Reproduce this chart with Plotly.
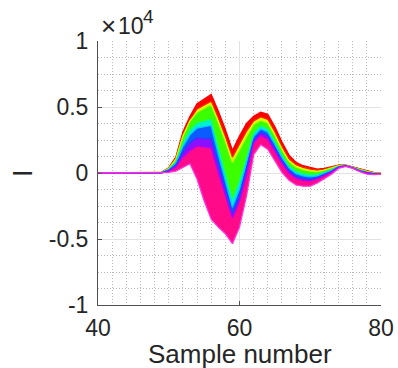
import plotly.graph_objects as go

samples = list(range(40, 81))
Z = [0] * 9  # samples 40..48

top_red = Z + [50, 400, 1200, 3100, 4300, 5250, 5600, 5950, 4700, 3300, 1700, 2800, 3750, 4300, 4600, 4450,
               3500, 2350, 1350, 800, 550, 400, 300, 350, 500, 600, 600, 450, 280, 150, 30, 0]
edge_red_yellow = Z + [40, 370, 1100, 2900, 4050, 4850, 5150, 5450, 4180, 2790, 1200, 2200, 3180, 3940, 4250, 4070,
                       3130, 2020, 1080, 630, 430, 300, 220, 300, 460, 580, 590, 440, 270, 130, 20, -10]
edge_yellow_green = Z + [40, 350, 1050, 2800, 3950, 4600, 4900, 5200, 3860, 2420, 800, 1720, 2750, 3690, 4000, 3800,
                         2860, 1790, 880, 460, 260, 150, 110, 220, 390, 550, 580, 430, 250, 120, 10, -20]
edge_green_cyan = Z + [30, 280, 850, 2300, 3300, 3800, 3950, 4100, 2060, 60, -1900, -530, 1270, 3060, 3600, 3360,
                       2430, 1410, 570, 150, -20, -100, -80, 80, 280, 510, 560, 410, 210, 70, -20, -30]
edge_cyan_blue = Z + [30, 250, 750, 2000, 2900, 3400, 3500, 3600, 1440, -570, -2600, -1220, 730, 2770, 3350, 3100,
                      2170, 1180, 380, -50, -210, -290, -210, -20, 200, 480, 550, 400, 190, 50, -40, -40]
edge_blue_violet = Z + [20, 200, 600, 1600, 2300, 2700, 2600, 2600, 650, -1200, -3100, -1760, 260, 2500, 3100, 2830,
                        1910, 950, 190, -250, -430, -480, -360, -120, 120, 440, 540, 390, 170, 20, -60, -50]
edge_violet_pink = Z + [10, 150, 450, 1200, 1700, 2050, 1950, 1900, 40, -1680, -3400, -2150, -120, 2260, 2850, 2570,
                        1650, 720, 0, -410, -550, -600, -450, -180, 70, 420, 530, 380, 150, 0, -70, -60]
bottom_pink = Z + [0, 50, 150, 400, 700, -450, -2100, -3500, -4100, -4600, -5350, -4100, -1700, 1400, 2150, 1800,
                   900, 50, -550, -900, -1000, -1000, -750, -400, -100, 350, 500, 350, 100, -80, -120, -80]

curves = [top_red, edge_red_yellow, edge_yellow_green, edge_green_cyan,
          edge_cyan_blue, edge_blue_violet, edge_violet_pink, bottom_pink]
band_colors = ["#ff0000", "#ff0000", "#d8ff00", "#3cff00", "#00f0d0", "#0a5cff", "#8a10ff", "#ff0a88"]
line_colors = ["#ff0000", "#ff2000", "#c8ff00", "#20ff40", "#00c8ff", "#2040ff", "#b000ff", "#ff30e0"]

y_ticks = [-10000, -5000, 0, 5000, 10000]
y_ticktext = ["-1", "-0.5", "0", "0.5", "1"]
x_ticks = [40, 60, 80]

FONT = "Liberation Sans, Arial, sans-serif"

fig = go.Figure()
for i, c in enumerate(curves):
    fig.add_trace(go.Scatter(
        x=samples, y=c, mode="lines",
        line=dict(color=line_colors[i], width=1.3),
        fill=None if i == 0 else "tonexty",
        fillcolor=band_colors[i],
        showlegend=False, hoverinfo="skip"))

axis_common = dict(
    showgrid=True, gridcolor="#e2e2e2", gridwidth=1,
    zeroline=False, showline=True, linecolor="#505050", linewidth=1,
    ticks="inside", ticklen=4, tickcolor="#505050",
    tickfont=dict(family=FONT, size=23, color="#262626"),
    automargin=False,
)

minor_grid = dict(showgrid=True, gridcolor="#b8b8b8", griddash="1px,2px", gridwidth=1, ticks="")

fig.update_layout(
    width=398, height=368,
    margin=dict(l=98, r=17, t=41, b=63),
    paper_bgcolor="white", plot_bgcolor="white",
    xaxis=dict(range=[40, 80], tickvals=x_ticks, minor=dict(dtick=2, **minor_grid),
               ticklabelstandoff=2, **axis_common),
    yaxis=dict(range=[-10000, 10000], tickvals=y_ticks, ticktext=y_ticktext,
               minor=dict(dtick=1250, **minor_grid), ticklabelstandoff=4, **axis_common),
    annotations=[
        dict(text="×", xref="paper", yref="paper", x=0.002, y=1.056,
             xanchor="left", yanchor="middle", showarrow=False,
             font=dict(family=FONT, size=26, color="#262626")),
        dict(text="10", xref="paper", yref="paper", x=0.062, y=1.056,
             xanchor="left", yanchor="middle", showarrow=False,
             font=dict(family=FONT, size=23, color="#262626")),
        dict(text="4", xref="paper", yref="paper", x=0.152, y=1.094,
             xanchor="left", yanchor="middle", showarrow=False,
             font=dict(family=FONT, size=19, color="#262626")),
        dict(text="I", xref="paper", yref="paper", x=-0.265, y=0.5, textangle=-90,
             xanchor="center", yanchor="middle", showarrow=False,
             font=dict(family=FONT, size=27, color="#262626")),
        dict(text="Sample number", xref="paper", yref="paper", x=0.5, y=-0.12,
             xanchor="center", yanchor="top", showarrow=False,
             font=dict(family=FONT, size=26, color="#262626")),
    ],
)

fig.write_html("out.html")
